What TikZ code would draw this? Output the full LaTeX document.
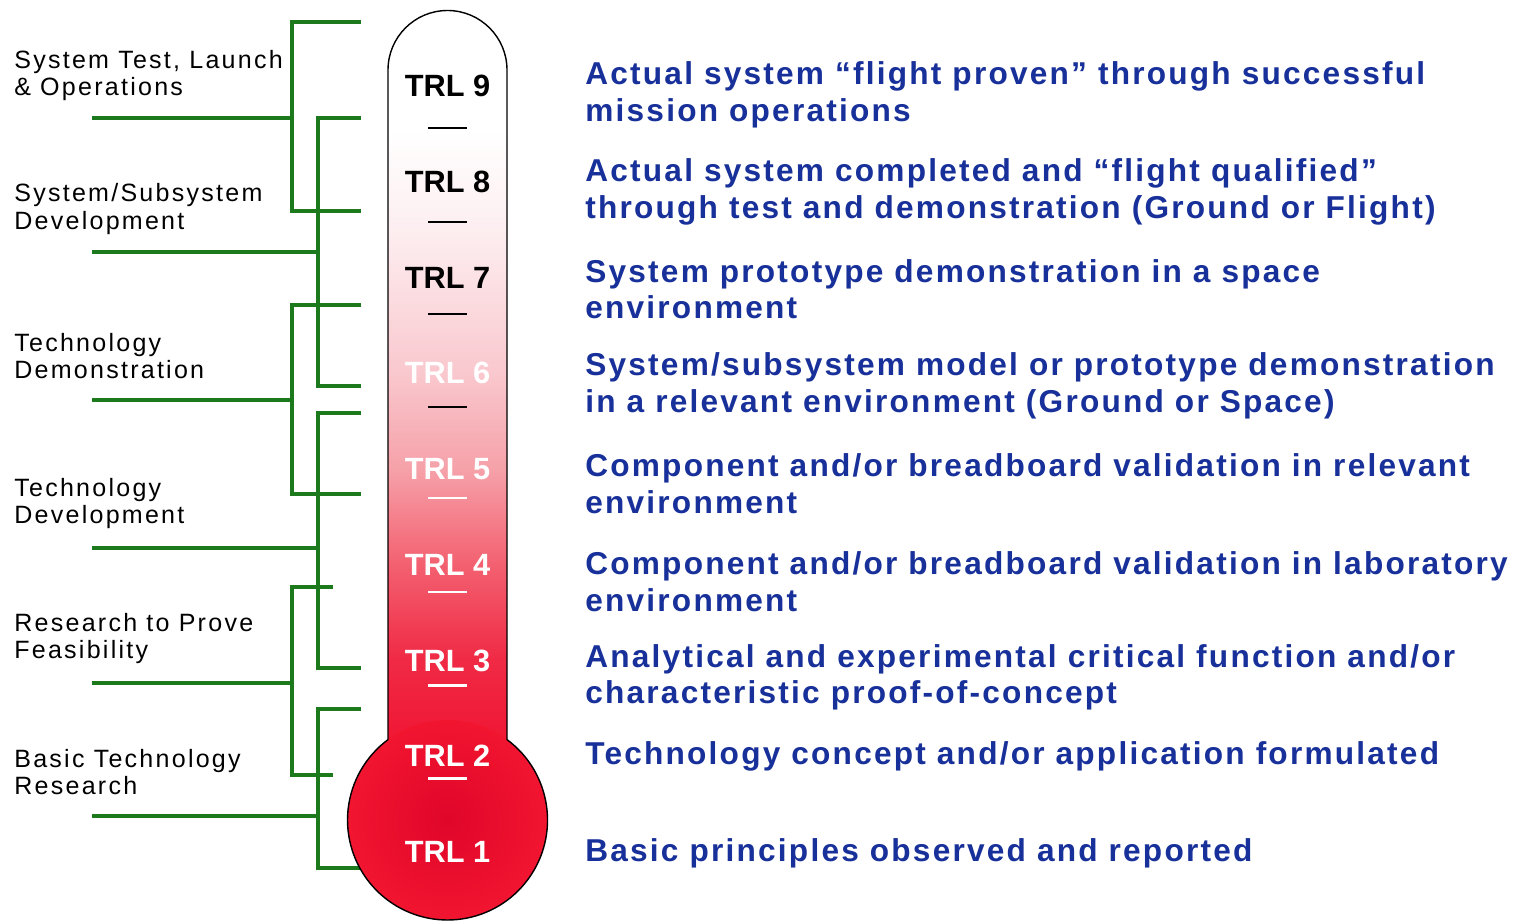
\documentclass[tikz,border=0pt]{standalone}
\usepackage{fontspec}
\setmainfont{Liberation Sans}
\newfontfamily\levelfont[LetterSpace=7]{Liberation Sans}
\newfontfamily\phasefont[LetterSpace=9]{Liberation Sans}
\usetikzlibrary{positioning}
\definecolor{Leaf}{HTML}{1C7A1C}
\definecolor{Ink}{HTML}{18309A}
\definecolor{RedLow}{HTML}{F01230}
\definecolor{RedMid}{HTML}{F02A45}
\definecolor{Rose}{HTML}{F36070}
\definecolor{Blush}{HTML}{F6A0A8}
\definecolor{Pale}{HTML}{F9C8CE}
\definecolor{Mist}{HTML}{FDEEF0}
\definecolor{BulbCore}{HTML}{E0062A}
\definecolor{BulbRim}{HTML}{F21530}
\pgfdeclareverticalshading{tubefill}{100bp}{color(0bp)=(RedLow); color(25bp)=(RedLow);
  color(31.7bp)=(RedMid); color(38bp)=(Rose); color(44.3bp)=(Blush); color(50.8bp)=(Pale);
  color(60.3bp)=(Mist); color(67bp)=(white); color(100bp)=(white)}

\begin{document}
\begin{tikzpicture}[x=0.02cm,y=0.02cm,
    phase/.style={anchor=west,align=left,inner sep=0pt,font=\phasefont\fontsize{14.25}{15.4}\selectfont},
    level/.style={anchor=west,align=left,inner sep=0pt,text=Ink,font=\levelfont\bfseries\fontsize{18}{20.8}\selectfont},
    trl/.style={inner sep=0pt,font=\bfseries\fontsize{17.5}{20}\selectfont},
    bracket/.style={Leaf,line width=2.3pt},
    tick/.style={line width=1.7pt}]
  \fill[white] (0,0) rectangle (1520,921);
  \useasboundingbox (0,0) rectangle (1520,921);

  % phase names on the left
  \node[phase] (ops)   at (14,845.5) {System Test, Launch\\\& Operations};
  \node[phase] (sysdev) at (14,712) {System/Subsystem\\Development};
  \node[phase] (demo)  at (14,565) {Technology\\Demonstration};
  \node[phase] (techdev) at (14,417.5) {Technology\\Development};
  \node[phase] (feas)  at (14,282.5) {Research to Prove\\Feasibility};
  \node[phase] (basic) at (14,148.5) {Basic Technology\\Research};

  % brackets: name/x/top/bottom/stem/arm end
  \foreach \n/\xb/\yt/\yb/\ym/\xe in {A/292/899/710/803/361,B/318/803/535/669/361,
      C/292/616/427/521/361,D/318/508/253/373/361,E/292/334/146/238/333,F/318/212/53/105/361}{
    \coordinate (\n-top) at (\xe,\yt);
    \coordinate (\n-bot) at (\xe,\yb);
    \coordinate (\n-stem) at (92,\ym);
    \draw[bracket] (\n-top) -- (\xb,\yt) -- (\xb,\yb) -- (\n-bot);
    \draw[bracket] (\n-stem) -- (\xb,\ym);
  }

  % thermometer
  \shade[shading=tubefill] (388,161) -- (388,851) arc[start angle=180,end angle=0,radius=59.5] -- (507,161) -- cycle;
  \shade[inner color=BulbCore,outer color=BulbRim] (447.5,101) circle[radius=100];
  \draw[line width=0.8pt] (388,181.4) -- (388,851) arc[start angle=180,end angle=0,radius=59.5]
    -- (507,181.4) arc[start angle=53.5,end angle=-233.5,radius=100];

  \foreach \y/\c in {793/black,699/black,607/black,514/black,423/white,329/white,236/white,143/white}
    \draw[tick,\c] (428,\y) -- (467,\y);
  \foreach \k/\c in {1/white,2/white,3/white,4/white,5/white,6/white,7/black,8/black,9/black}
    \node[trl,text=\c] (trl\k) at (447.5,{69+(\k-1)*95.75}) {TRL \k};

  % level descriptions
  \node[level] (lvl9) at (585,826) {Actual system “flight proven” through successful\\mission operations};
  \node[level] (lvl8) at (585,729) {Actual system completed and “flight qualified”\\through test and demonstration (Ground or Flight)};
  \node[level] (lvl7) at (585,632) {System prototype demonstration in a space\\environment};
  \node[level] (lvl6) at (585,535) {System/subsystem model or prototype demonstration\\in a relevant environment (Ground or Space)};
  \node[level] (lvl5) at (585,437.5) {Component and/or breadboard validation in relevant\\environment};
  \node[level] (lvl4) at (585,339.5) {Component and/or breadboard validation in laboratory\\environment};
  \node[level] (lvl3) at (585,243.5) {Analytical and experimental critical function and/or\\characteristic proof-of-concept};
  \node[level] (lvl2) at (585,164.5) {Technology concept and/or application formulated};
  \node[level] (lvl1) at (585,67.5) {Basic principles observed and reported};
\end{tikzpicture}
\end{document}
